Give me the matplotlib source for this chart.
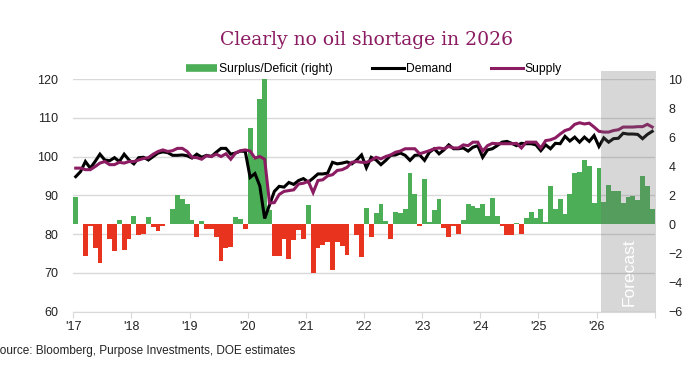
import numpy as np
import matplotlib
matplotlib.use("Agg")
import matplotlib.pyplot as plt
from matplotlib.lines import Line2D
from matplotlib.patches import Rectangle
import matplotlib.transforms as mtransforms

plt.rcParams['font.family'] = ['Liberation Sans', 'DejaVu Sans']

# monthly data, Jan 2017 .. Dec 2026
years = ["'17", "'18", "'19", "'20", "'21", "'22", "'23", "'24", "'25", "'26"]

# surplus / deficit (right axis, mb/d)
balance = [
    1.9, 0.05, -2.2, -0.1, -1.6, -2.65, 0.0, -1.0, -1.84, 0.3, -1.75, -1.0,      # 2017
    0.57, -0.76, -0.67, 0.5, -0.2, -0.46, -0.1, 0.05, 1.08, 2.0, 1.75, 1.4,       # 2018
    0.3, -0.9, 0.25, -0.35, -0.35, -0.9, -2.5, -1.6, -1.55, 0.5, 0.4, -0.3,       # 2019
    6.6, 4.5, 8.6, 10.5, 1.0, -2.2, -2.2, -1.0, -2.4, -1.05, -0.4, -1.0,          # 2020
    1.3, -3.33, -1.63, -1.45, -1.22, -3.13, -1.22, -1.5, -2.14, 0.0, -0.75, -2.25,  # 2021
    1.13, -0.87, 0.78, 1.42, 0.2, -1.03, 0.83, 0.8, 1.03, 3.5, 2.1, -0.1,         # 2022
    3.1, 0.15, 1.0, 1.72, -0.25, -0.87, -0.15, -0.7, 0.32, 1.37, 1.24, 1.13,      # 2023
    1.38, 0.6, 1.82, 0.6, -0.15, -0.76, -0.76, 0.1, -0.64, 0.45, 0.84, 0.45,      # 2024
    1.05, 0.15, 2.67, 1.05, 1.75, 0.74, 2.06, 3.5, 3.6, 4.46, 4.0, 1.5,           # 2025
    3.9, 1.57, 2.7, 2.32, 2.3, 1.5, 1.9, 1.92, 1.68, 3.3, 2.63, 1.08,             # 2026
]

# demand (left axis, mb/d)
demand = [
    94.8, 96.1, 98.7, 97.0, 98.7, 100.6, 99.1, 98.9, 99.7, 98.7, 100.6, 99.1,
    98.1, 99.7, 99.8, 99.1, 100.0, 100.9, 101.2, 101.0, 100.3, 100.3, 100.4, 100.2,
    99.6, 100.6, 99.8, 100.3, 100.0, 101.1, 102.1, 102.1, 100.6, 100.9, 101.4, 101.3,
    94.6, 95.6, 92.4, 84.0, 87.5, 91.0, 92.3, 92.1, 93.3, 92.8, 93.8, 94.3,
    93.4, 94.4, 95.5, 95.5, 95.7, 98.5, 98.1, 98.3, 98.6, 98.1, 99.1, 100.4,
    97.1, 99.8, 99.1, 97.9, 99.0, 100.3, 100.4, 100.9, 100.3, 99.0, 100.3, 100.4,
    99.0, 101.1, 102.0, 100.7, 101.7, 103.0, 102.0, 102.0, 102.2, 101.4, 102.4, 102.8,
    99.8, 101.7, 102.0, 102.8, 103.7, 103.9, 103.4, 102.8, 103.4, 103.3, 103.3, 103.0,
    101.5, 103.0, 102.0, 103.4, 103.3, 105.2, 104.0, 105.0, 103.7, 105.0, 103.9, 105.4,
    102.6, 104.8, 103.7, 104.6, 104.7, 106.0, 105.8, 105.8, 105.7, 104.6, 105.7, 106.5,
]

# supply (left axis, mb/d)
supply = [
    97.0, 97.0, 96.6, 96.6, 97.4, 98.3, 98.7, 97.9, 97.9, 98.5, 98.3, 98.7,
    98.7, 99.1, 99.5, 99.7, 100.6, 101.3, 101.7, 101.3, 101.5, 102.1, 102.1, 101.3,
    99.8, 99.7, 99.3, 100.2, 100.0, 100.6, 100.0, 100.7, 99.3, 100.9, 101.5, 101.7,
    101.4, 99.6, 100.0, 99.3, 88.0, 88.1, 90.2, 91.0, 91.2, 91.4, 92.9, 93.1,
    93.6, 90.7, 93.8, 94.0, 95.0, 95.3, 96.4, 96.6, 97.2, 98.5, 98.7, 98.5,
    98.5, 99.0, 99.8, 99.4, 100.0, 100.4, 101.1, 101.4, 102.0, 102.0, 102.0, 100.7,
    101.1, 101.5, 102.0, 102.2, 102.0, 102.6, 102.2, 102.2, 103.0, 102.8, 103.7, 103.7,
    101.4, 102.8, 103.4, 103.3, 103.3, 103.3, 103.3, 103.4, 102.2, 103.7, 103.7, 103.7,
    102.2, 104.1, 104.3, 104.8, 105.8, 106.7, 107.1, 108.3, 108.7, 108.4, 108.6, 107.6,
    106.5, 106.3, 106.3, 106.7, 106.9, 107.6, 107.6, 107.6, 107.7, 107.7, 108.3, 107.6,
]

forecast_start = 109  # Feb 2026

GREEN = "#4caf57"
RED = "#e8331f"
PURPLE = "#8b1c62"
GRID = "#d9d9d9"
TXT = "#222222"

x = np.arange(len(balance)) + 0.5
bal = np.array(balance)

fig = plt.figure(figsize=(6.96, 3.85), dpi=100)
ax2 = fig.add_axes([0.1053, 0.1909, 0.8353, 0.6039])   # bars, right scale
ax = ax2.twinx()                                         # lines, left scale
ax.yaxis.tick_left()
ax2.yaxis.tick_right()
ax.set_zorder(ax2.get_zorder() + 1)
ax.patch.set_visible(False)

ax.set_ylim(60, 120)
ax2.set_ylim(-6, 10)
ax.set_xlim(0, 120)

# grid from left scale, drawn behind bars
for v in np.arange(60, 121, 10):
    ax2.axhline(-6 + (v - 60) * 16 / 60, color=GRID, lw=1.0, zorder=0)

colors = [GREEN if v >= 0 else RED for v in bal]
ax2.bar(x, bal, width=1.0, color=colors, linewidth=0, zorder=2)

ax.plot(x, demand, color="black", lw=2.2, zorder=3, solid_joinstyle="miter")
ax.plot(x, supply, color=PURPLE, lw=2.2, zorder=4, solid_joinstyle="miter")

# forecast shading, slightly above the plot top
trans = mtransforms.blended_transform_factory(ax.transData, ax.transAxes)
ax.add_patch(Rectangle((forecast_start, 0), 120.3 - forecast_start, 1.035,
                       transform=trans, facecolor="#6d6d6d", alpha=0.27,
                       edgecolor="none", clip_on=False, zorder=5))
ax.text((forecast_start + 120) / 2 + 0.3, 0.17, "Forecast", transform=trans,
        rotation=90, color="white", fontsize=12.5, ha="center", va="center",
        zorder=6)

for a in (ax, ax2):
    for s in a.spines.values():
        s.set_visible(False)
ax2.spines["bottom"].set_visible(True)
ax2.spines["bottom"].set_color(GRID)

ax.set_yticks(np.arange(60, 121, 10))
ax2.set_yticks(np.arange(-6, 11, 2))
ax.tick_params(axis="y", length=0, pad=11, labelsize=9, labelcolor=TXT)
ax2.tick_params(axis="y", length=0, pad=10, labelsize=9, labelcolor=TXT)

ax2.set_xticks(np.arange(0, 121, 12))
ax2.set_xticklabels(years + [""])
ax2.tick_params(axis="x", length=4, color=GRID, pad=3, labelsize=9,
                labelcolor=TXT)
ax.tick_params(axis="x", bottom=False, labelbottom=False)

handles = [
    Line2D([], [], color=GREEN, lw=5.5, solid_capstyle="butt"),
    Line2D([], [], color="black", lw=2.2),
    Line2D([], [], color=PURPLE, lw=2.2),
]
fig.legend(handles, ["Surplus/Deficit (right)", "Demand", "Supply"],
           loc="center", bbox_to_anchor=(0.537, 0.821), ncol=3, frameon=False,
           fontsize=8.7, handlelength=2.6, handletextpad=0.15,
           columnspacing=3.3, borderpad=0)

fig.text(0.526, 0.895, "Clearly no oil shortage in 2026", ha="center",
         va="center", fontsize=13.5, color=PURPLE,
         family=["DejaVu Serif"])

fig.text(-0.011, 0.088, "Source: Bloomberg, Purpose Investments, DOE estimates",
         ha="left", va="center", fontsize=8.5, color=TXT)

fig.savefig("out.png", dpi=100)
